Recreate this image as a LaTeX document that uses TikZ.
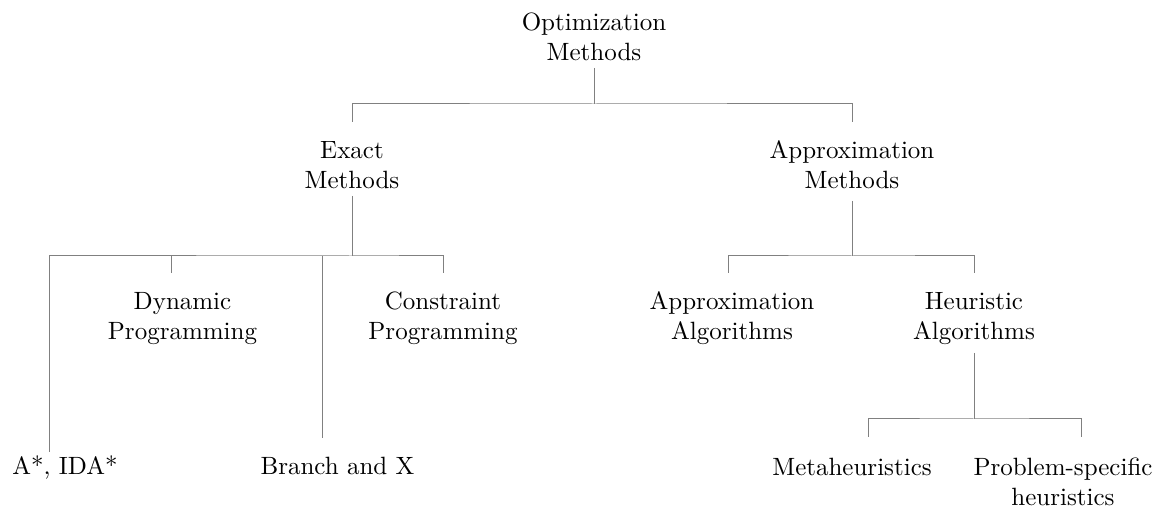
\documentclass[tikz,border=0pt]{standalone}
\usepackage{array}
\begin{document}
\begin{tikzpicture}[x=0.4pt,y=-0.4pt,
  lbl/.style={anchor=base,inner sep=0pt,outer sep=0pt,font=\normalsize},
  edge/.style={draw=gray,line width=0.4pt}]
\useasboundingbox (0,0) rectangle (1165,510);
\newcommand{\twoline}[2]{\setlength{\tabcolsep}{0pt}\begin{tabular}[t]{c}#1\\#2\end{tabular}}

% labels
\node[lbl] (opt)    at (594,31)  {\twoline{Optimization}{Methods}};
\node[lbl] (exact)  at (352,159) {\twoline{Exact}{Methods}};
\node[lbl] (approx) at (852,159) {\twoline{Approximation}{Methods}};
\node[lbl] (dp)     at (182.5,310) {\twoline{Dynamic}{Programming}};
\node[lbl] (cp)     at (443,310) {\twoline{Constraint}{Programming}};
\node[lbl] (aa)     at (732,310) {\twoline{Approximation}{Algorithms}};
\node[lbl] (ha)     at (974,310) {\twoline{Heuristic}{Algorithms}};
\node[lbl] (astar)  at (65,475)  {A*, IDA*};
\node[lbl] (bx)     at (337.5,475) {Branch and X};
\node[lbl] (meta)   at (852,476) {Metaheuristics};
\node[lbl] (ps)     at (1063,476) {\twoline{Problem-specific}{heuristics}};

% connector end points
\coordinate (opt-out)    at (594,68);
\coordinate (opt-bar)    at (594,104);
\coordinate (exact-in)   at (352,122);
\coordinate (approx-in)  at (852,122);
\coordinate (exact-out)  at (352,196);
\coordinate (exact-bar)  at (352,256);
\coordinate (astar-in)   at (49,452);
\coordinate (dp-in)      at (171,273);
\coordinate (bx-in)      at (322,438);
\coordinate (cp-in)      at (443,273);
\coordinate (approx-out) at (852,201);
\coordinate (approx-bar) at (852,256);
\coordinate (aa-in)      at (728,273);
\coordinate (ha-in)      at (974,273);
\coordinate (ha-out)     at (974,353);
\coordinate (ha-bar)     at (974,419);
\coordinate (meta-in)    at (868,437);
\coordinate (ps-in)      at (1081,437);

% tree connectors
\draw[edge] (opt-out) -- (opt-bar);
\draw[edge] (exact-in) |- (opt-bar) -| (approx-in);

\draw[edge] (exact-out) -- (exact-bar);
\draw[edge] (astar-in) |- (exact-bar) -| (cp-in);
\draw[edge] (dp-in) -- (dp-in |- exact-bar);
\draw[edge] (bx-in) -- (bx-in |- exact-bar);

\draw[edge] (approx-out) -- (approx-bar);
\draw[edge] (aa-in) |- (approx-bar) -| (ha-in);

\draw[edge] (ha-out) -- (ha-bar);
\draw[edge] (meta-in) |- (ha-bar) -| (ps-in);
\end{tikzpicture}
\end{document}
